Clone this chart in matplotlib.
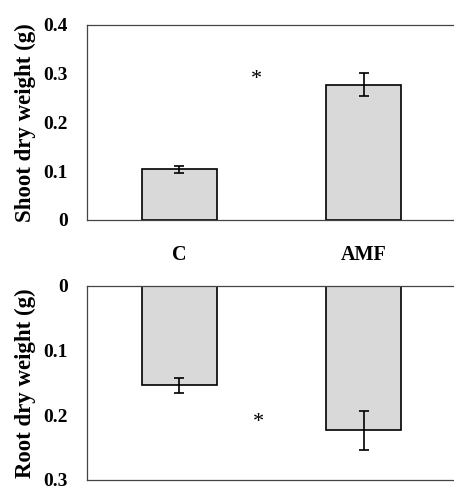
import matplotlib
matplotlib.use("Agg")
from matplotlib import pyplot as plt
import numpy as np

groups = ["C", "AMF"]
shoot = [0.104, 0.277]
shoot_err = [0.007, 0.023]
root = [0.154, 0.223]
root_err = [0.011, 0.030]
# significance marks (x between groups, y in data units)
star_shoot = (0.42, 0.287)
star_root = (0.43, 0.211)

plt.rcParams['font.family'] = ['Liberation Serif', 'DejaVu Serif']
plt.rcParams['font.weight'] = 'bold'

fig = plt.figure(figsize=(4.54, 4.87), dpi=100)
W, H = 454.0, 487.0
left = 87 / W
width = (456 - 87) / W
ax1 = fig.add_axes([left, 1 - 220 / H, width, (220 - 24.5) / H])
ax2 = fig.add_axes([left, 1 - 480 / H, width, (480 - 285.7) / H])

x = np.arange(len(groups))
bar_kw = dict(width=0.405, color='#d9d9d9', edgecolor='black', linewidth=1.2,
              error_kw=dict(elinewidth=1.2, capthick=1.2, ecolor='black'), capsize=3.8)

ax1.bar(x, shoot, yerr=shoot_err, **bar_kw)
ax1.set_ylim(0, 0.4)
ax1.set_yticks([0, 0.1, 0.2, 0.3, 0.4])
ax1.set_yticklabels(['0', '0.1', '0.2', '0.3', '0.4'])
ax1.set_ylabel('Shoot dry weight (g)', fontsize=16.5, fontweight='bold', labelpad=5)
ax1.text(*star_shoot, '*', ha='center', va='center', fontsize=16, fontweight='normal')

ax2.bar(x, root, yerr=root_err, **bar_kw)
ax2.set_ylim(0.3, 0)
ax2.set_yticks([0, 0.1, 0.2, 0.3])
ax2.set_yticklabels(['0', '0.1', '0.2', '0.3'])
ax2.set_ylabel('Root dry weight (g)', fontsize=16.5, fontweight='bold', labelpad=5)
ax2.text(*star_root, '*', ha='center', va='center', fontsize=16, fontweight='normal')

for ax in (ax1, ax2):
    ax.set_xlim(-0.5, 1.5)
    ax.set_xticks([])
    ax.tick_params(axis='y', length=0, labelsize=14, pad=14)
    for lbl in ax.get_yticklabels():
        lbl.set_fontweight('bold')
    ax.spines['right'].set_visible(False)
    for s in ('left', 'top', 'bottom'):
        ax.spines[s].set_linewidth(0.9)
        ax.spines[s].set_color('#444444')

for xi, g in zip(x, groups):
    ax2.text(xi, -0.047, g, ha='center', va='center', fontsize=14.5,
             fontweight='bold', transform=ax2.transData, clip_on=False)

fig.savefig('out.png', dpi=100)
